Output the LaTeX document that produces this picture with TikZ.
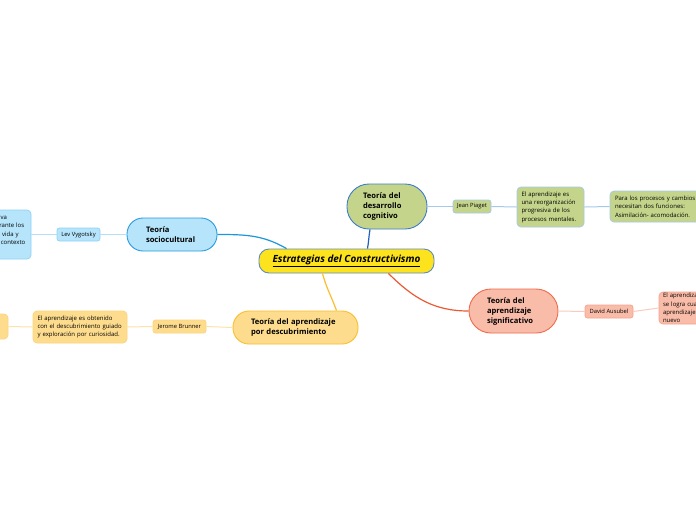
\documentclass[tikz,border=0pt]{standalone}
\usepackage{fontspec}
\setmainfont{Open Sans}
\definecolor{cfill}{HTML}{FCE31D}
\definecolor{cdraw}{HTML}{5C8BC4}
\definecolor{gfill}{HTML}{C4D58B}
\definecolor{gdraw}{HTML}{3D7CC9}
\definecolor{gline}{HTML}{1F5FC0}
\definecolor{gsub}{HTML}{A6C8EA}
\definecolor{bfill}{HTML}{B5E4FB}
\definecolor{bdraw}{HTML}{2A9BE0}
\definecolor{bline}{HTML}{1E96DB}
\definecolor{bsub}{HTML}{8FD2F6}
\definecolor{blsub}{HTML}{B3DFF7}
\definecolor{ofill}{HTML}{FEDC8E}
\definecolor{odraw}{HTML}{FBBF2E}
\definecolor{oline}{HTML}{FBBF2E}
\definecolor{osub}{HTML}{FDD47E}
\definecolor{olsub}{HTML}{FCE3A8}
\definecolor{rfill}{HTML}{F9BCA9}
\definecolor{rdraw}{HTML}{EE6B4C}
\definecolor{rline}{HTML}{EA5A33}
\definecolor{rsub}{HTML}{F5A48E}
\definecolor{rlsub}{HTML}{F8CBBD}
\begin{document}
\begin{tikzpicture}[x=1pt,y=-1pt,
  mainnode/.style={draw, line width=0.9pt, align=left, inner sep=0pt,
    font=\fontsize{7.6}{10}\selectfont\bfseries},
  smallnode/.style={draw, line width=0.7pt, rounded corners=2.5pt, inner sep=0pt,
    minimum height=13pt, font=\fontsize{5.8}{7}\selectfont},
  descnode/.style={draw, line width=0.7pt, rounded corners=4pt, align=left, inner sep=0pt,
    font=\fontsize{6}{8.3}\selectfont},
  mainline/.style={line width=1.2pt},
  subline/.style={line width=1pt}]
\useasboundingbox (0,0) rectangle (696,520);
\clip (0,0) rectangle (696,520);
\fill[white] (0,0) rectangle (696,520);

% center
\node[draw=cdraw, fill=cfill, line width=0.9pt, rounded corners=10pt, minimum width=175pt,
  minimum height=24pt, inner sep=0pt, font=\fontsize{9.9}{12}\selectfont] (c) at (346.5,261)
  {\underline{\textbf{\textit{Estrategias del Constructivismo}}}};

% green branch
\node[mainnode, draw=gdraw, fill=gfill, rounded corners=22pt, minimum width=80pt,
  minimum height=45pt, text width=48pt] (g) at (387,206.5) {Teoría del\\desarrollo\\cognitivo};
\node[smallnode, draw=gsub, fill=gfill, minimum width=38pt] (jp) at (472,206.5) {Jean Piaget};
\node[descnode, draw=gsub, fill=gfill, minimum width=67pt, minimum height=40pt, text width=58pt]
  (pd) at (550.5,207) {El aprendizaje es\\una reorganización\\progresiva de los\\procesos mentales.};
\node[descnode, draw=gsub, fill=gfill, minimum width=100pt, minimum height=31pt, text width=90pt]
  (pp) at (660,206.5) {Para los procesos y cambios se\\necesitan dos funciones:\\Asimilación- acomodación.};

% blue branch
\node[mainnode, draw=bdraw, fill=bfill, rounded corners=16pt, minimum width=90pt,
  minimum height=33pt, text width=52pt] (s) at (172,234.5) {Teoría\\sociocultural};
\node[smallnode, draw=bsub, fill=bfill, minimum width=43pt] (lv) at (78.5,234.5) {Lev Vygotsky};
\node[descnode, draw=bsub, fill=bfill, minimum width=84pt, minimum height=49pt, text width=76pt]
  (ld) at (-11,234.5) {El aprendizaje se va\\desarrollando durante los\\distintas fases de vida y\\dependiendo del contexto\\social y cultural.};

% orange branch
\node[mainnode, draw=odraw, fill=ofill, rounded corners=16pt, minimum width=125pt,
  minimum height=33pt, text width=89pt] (d) at (295.5,327.5) {Teoría del aprendizaje\\por descubrimiento};
\node[smallnode, draw=osub, fill=ofill, minimum width=53pt] (jb) at (179.5,326.5) {Jerome Brunner};
\node[descnode, draw=osub, fill=ofill, minimum width=94pt, minimum height=32pt, text width=85pt]
  (bd) at (80,327) {El aprendizaje es obtenido\\con el descubrimiento guiado\\y exploración por curiosidad.};
\node[descnode, draw=osub, fill=ofill, minimum width=90pt, minimum height=25pt] (bl) at (-37,326.5) {};

% red branch
\node[mainnode, draw=rdraw, fill=rfill, rounded corners=22pt, minimum width=89pt,
  minimum height=44pt, text width=53pt] (sg) at (513.5,311) {Teoría del\\aprendizaje\\significativo};
\node[smallnode, draw=rsub, fill=rfill, minimum width=48pt] (da) at (609,311.5) {David Ausubel};
\node[descnode, draw=rsub, fill=rfill, minimum width=90pt, minimum height=32pt, text width=82pt]
  (sd) at (704,308) {El aprendizaje significativo\\se logra cuando se relaciona\\aprendizaje previo con el\\nuevo};

% main connectors
\draw[mainline, gline] ([xshift=21pt]c.north) to[out=80,in=-100] ([xshift=-17pt]g.south);
\draw[mainline, bline] (s.east) to[out=0,in=150] ([xshift=-60pt]c.north);
\draw[mainline, oline] ([xshift=-24pt]c.south) to[out=-75,in=110] ([xshift=41pt]d.north);
\draw[mainline, rline] ([xshift=42pt]c.south) to[out=-45,in=180] (sg.west);

% sub connectors
\draw[subline, gsub] (g.east) -- (jp.west);
\draw[subline, gsub] (jp.east) -- (pd.west);
\draw[subline, gsub] (pd.east) -- (pp.west);
\draw[subline, blsub] (s.west) -- (lv.east);
\draw[subline, blsub] (lv.west) -- (ld.east);
\draw[subline, olsub] (d.west) -- (jb.east);
\draw[subline, olsub] (jb.west) -- (bd.east);
\draw[subline, olsub] (bd.west) -- (bl.east);
\draw[subline, rlsub] (sg.east) -- (da.west);
\draw[subline, rlsub] (da.east) -- (sd.west);
\end{tikzpicture}
\end{document}
